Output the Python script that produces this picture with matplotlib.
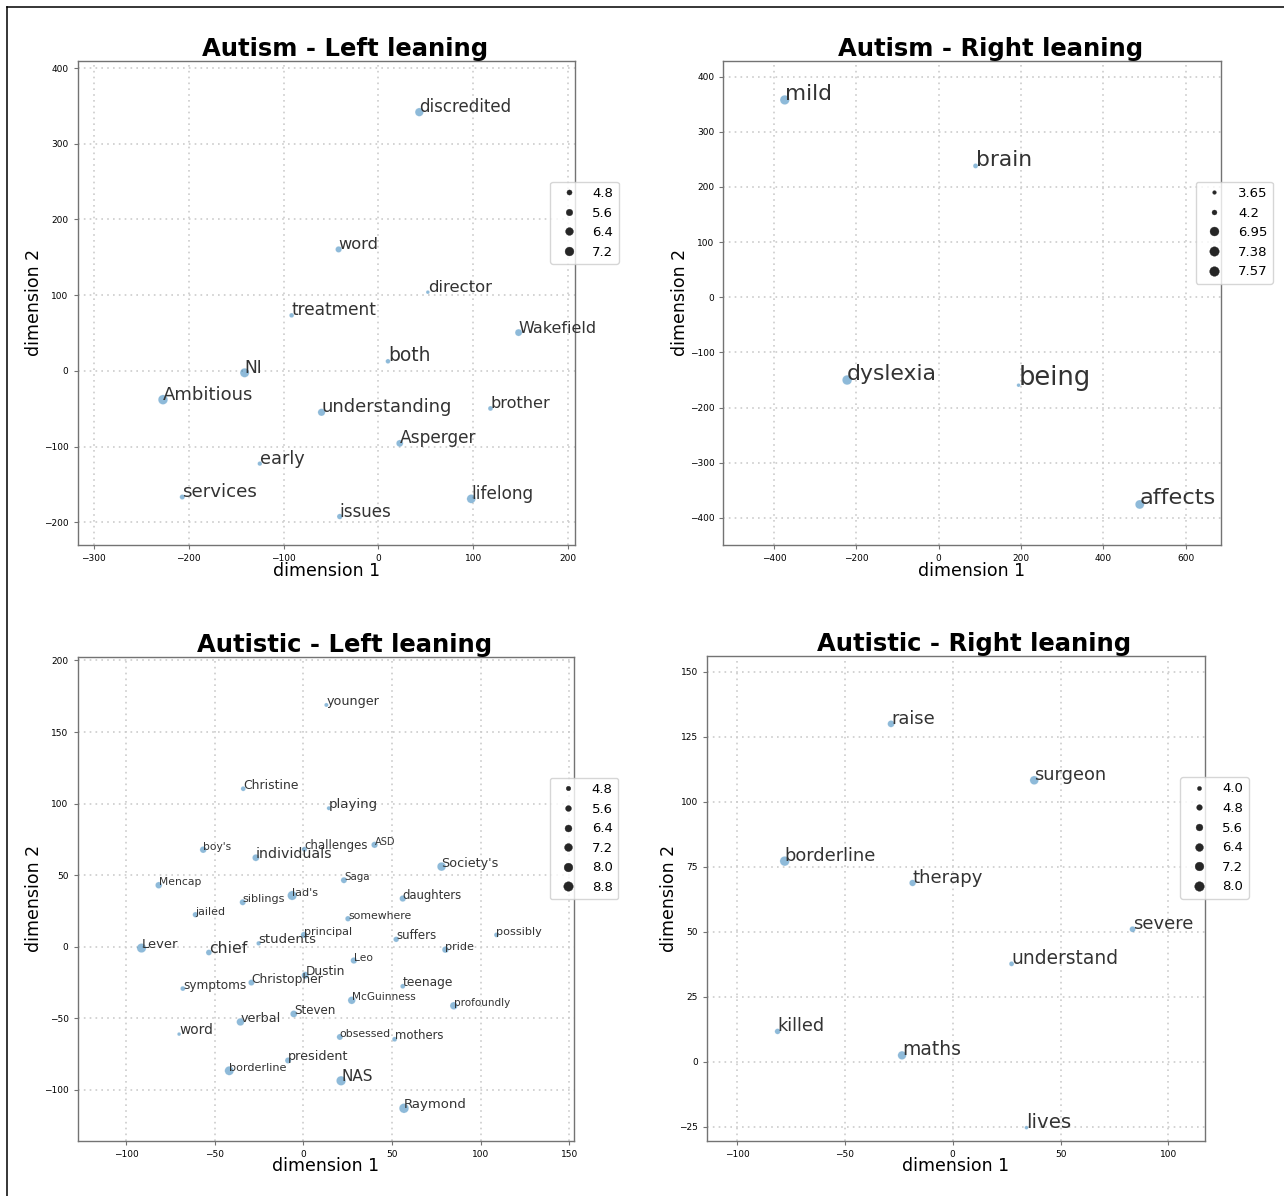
import numpy as np
import matplotlib.pyplot as plt
import seaborn as sns
from matplotlib.lines import Line2D

# Autism - Left leaning
al_words = ["discredited", "word", "director", "treatment", "Wakefield", "both", "NI",
            "Ambitious", "understanding", "brother", "Asperger", "early", "services",
            "lifelong", "issues"]
al_x = [43, -42, 52, -91.5, 147.6, 10, -141, -227, -60, 118, 22.4, -125, -206.7, 97.7, -40.8]
al_y = [341.8, 160.5, 104, 73.4, 50.6, 12.7, -2.5, -38, -54.7, -49.6, -95.7, -122.5, -166.6, -169, -192.4]
al_size = [6.9, 5.4, 4.2, 4.6, 5.9, 4.6, 7.5, 7.9, 6.1, 4.7, 5.8, 4.5, 4.8, 7.2, 5.0]
al_font = [11.6, 11.4, 11.5, 11.9, 11.2, 13.1, 12.0, 12.6, 12.5, 11.3, 11.9, 12.4, 12.8, 11.8, 11.7]

# Autism - Right leaning
ar_words = ["mild", "brain", "dyslexia", "being", "affects"]
ar_x = [-374, 89.5, -222.5, 194, 488.3]
ar_y = [357.6, 238, -150, -159.4, -375.5]
ar_size = [7.38, 4.2, 7.57, 3.65, 6.95]
ar_font = [15.2, 15.2, 15.3, 18.0, 15.7]

# Autistic - Left leaning
tl_words = ["younger", "Christine", "playing", "boy's", "individuals", "challenges", "ASD",
            "Society's", "Mencap", "Saga", "lad's", "siblings", "daughters", "jailed",
            "somewhere", "principal", "students", "suffers", "possibly", "Lever", "chief",
            "pride", "Leo", "Dustin", "Christopher", "symptoms", "teenage", "McGuinness",
            "profoundly", "Steven", "verbal", "word", "obsessed", "mothers", "president",
            "borderline", "NAS", "Raymond"]
tl_x = [13.0, -33.9, 14.4, -56.5, -26.8, 0.6, 40.2, 78, -81.6, 22.9, -6.3, -34.2, 56.1, -60.9,
        25.2, 0.4, -25.2, 52.4, 109, -91.3, -53.3, 80.2, 28.5, 1.1, -29.3, -68, 56.1, 27.3,
        84.9, -5.4, -35.5, -70.1, 20.6, 51.5, -8.6, -41.8, 21.3, 56.8]
tl_y = [168.9, 110.4, 96.8, 67.8, 62.2, 68.1, 71.2, 56, 43, 46.5, 35.8, 31.1, 33.7, 22.4,
        19.6, 8.3, 2.4, 5.2, 8.3, -0.9, -4.0, -2.0, -9.6, -19.9, -25, -29.2, -27.6, -37.4,
        -41.2, -46.9, -52.5, -61, -63, -64.6, -79.4, -86.6, -93.6, -112.8]
tl_size = [4.6, 5.0, 4.6, 6.2, 6.4, 5.2, 6.0, 8.0, 6.2, 5.8, 8.6, 5.8, 6.0, 5.4,
           5.4, 6.0, 4.8, 5.4, 5.0, 8.6, 5.6, 6.2, 6.0, 6.6, 5.8, 5.0, 5.0, 7.0,
           7.0, 6.4, 7.0, 4.4, 5.8, 5.0, 5.8, 8.4, 8.8, 9.0]
tl_font = [8.9, 8.7, 9.4, 7.4, 9.9, 8.2, 6.9, 8.9, 7.5, 7.2, 7.8, 7.9, 8.1, 7.7,
           7.6, 7.8, 9.3, 8.2, 7.9, 9.2, 11.0, 7.9, 7.4, 8.5, 8.6, 8.5, 8.6, 7.3,
           7.25, 8.35, 8.9, 9.6, 7.6, 8.1, 8.9, 7.9, 10.7, 9.3]

# Autistic - Right leaning
tr_words = ["raise", "surgeon", "borderline", "therapy", "severe", "understand", "killed",
            "maths", "lives"]
tr_x = [-28.6, 37.8, -77.9, -18.6, 83.4, 27.3, -81.2, -23.5, 34.2]
tr_y = [129.9, 108.2, 77.1, 68.7, 50.9, 37.6, 11.6, 2.4, -25.4]
tr_size = [5.6, 7.2, 8.1, 5.4, 5.0, 4.4, 4.8, 7.0, 3.8]
tr_font = [12.5, 12.4, 12.5, 12.7, 12.5, 13.0, 12.3, 13.1, 13.8]

panels = [
    ("Autism - Left leaning", al_words, al_x, al_y, al_size, al_font,
     [0.0604, 0.5443, 0.3874, 0.4051], (-317, 207), (-230, 410)),
    ("Autism - Right leaning", ar_words, ar_x, ar_y, ar_size, ar_font,
     [0.5634, 0.5443, 0.3873, 0.4051], (-523, 685), (-449, 429)),
    ("Autistic - Left leaning", tl_words, tl_x, tl_y, tl_size, tl_font,
     [0.0604, 0.0463, 0.3870, 0.4046], (-127.4, 153), (-135.4, 202.6)),
    ("Autistic - Right leaning", tr_words, tr_x, tr_y, tr_size, tr_font,
     [0.5505, 0.0463, 0.3880, 0.4052], (-114, 117), (-30.4, 156)),
]

fig = plt.figure(figsize=(12.84, 11.96), dpi=100)

for title, words, xs, ys, sizes, fonts, rect, xlim, ylim in panels:
    ax = fig.add_axes(rect)
    sns.scatterplot(x=np.array(xs), y=np.array(ys), size=np.array(sizes),
                    sizes=(7, 48), alpha=0.5, color="#1f77b4", ax=ax)
    for w, x, y, fs in zip(words, xs, ys, fonts):
        ax.text(x, y, w, fontsize=fs * 1.03, color="0.2")
    ax.set_xlim(*xlim)
    ax.set_ylim(*ylim)
    ax.grid(True, linestyle=(0, (1, 2.5)), color="0.8", linewidth=1.2)
    ax.set_axisbelow(True)
    for sp in ax.spines.values():
        sp.set_color("0.45")
        sp.set_linewidth(1.0)
    ax.tick_params(labelsize=6.5, length=3, color="0.45")
    ax.set_xlabel("dimension 1", fontsize=12.5, labelpad=-1)
    ax.set_ylabel("dimension 2", fontsize=12.5, labelpad=0.5)
    ax.set_title(title, fontsize=17.5, fontweight="bold", x=0.537, pad=2)
    sns.move_legend(ax, "upper left", bbox_to_anchor=(0.95, 0.75), borderaxespad=0,
                    title=None, fontsize=9.5)
    for h in ax.get_legend().legend_handles:
        h.set_alpha(1)
        h.set_markerfacecolor("0.15")
        h.set_markeredgecolor("0.15")

# thin frame along the top and left edges
fig.add_artist(Line2D([0.00545, 1], [0.99415, 0.99415], color="black", lw=1.1,
                      transform=fig.transFigure))
fig.add_artist(Line2D([0.00545, 0.00545], [0, 0.99415], color="black", lw=1.1,
                      transform=fig.transFigure))

fig.savefig("out.png", dpi=100)
